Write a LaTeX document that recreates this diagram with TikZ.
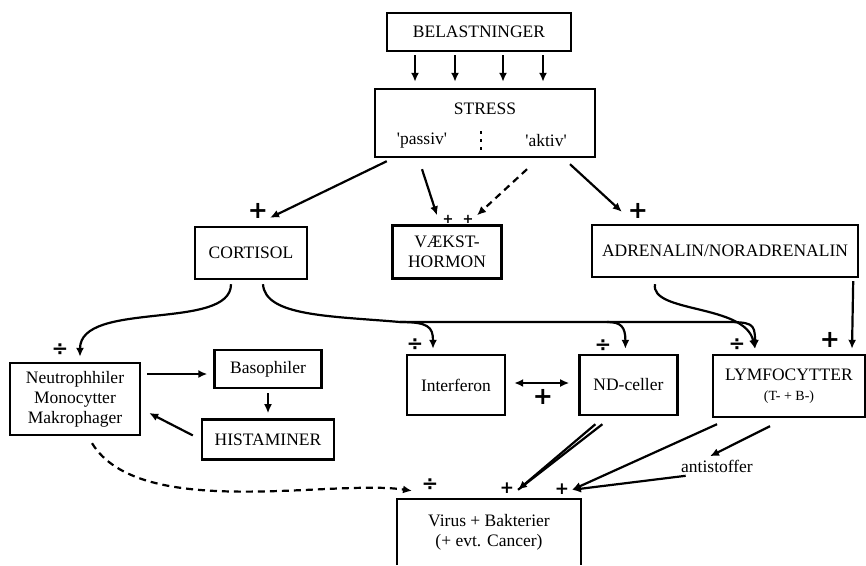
\documentclass[tikz,border=0pt]{standalone}
\usepackage{fontspec}
\setmainfont{Liberation Serif}
\newfontfamily\signfont{DejaVu Sans}
\usetikzlibrary{positioning,arrows.meta,calc}

\begin{document}
\begin{tikzpicture}[
  x=1pt,y=-1pt,
  font=\fontsize{17.5}{20}\selectfont,
  box/.style={draw,line width=2.4pt,align=center,inner sep=2pt},
  arr/.style={-{Latex[length=9pt,width=8pt]},line width=2.2pt},
  arrboth/.style={{Latex[length=9pt,width=8pt]}-{Latex[length=9pt,width=8pt]},line width=2.2pt},
  darr/.style={arr,dash pattern=on 7pt off 5pt},
  plus/.style={font=\signfont\bfseries\fontsize{24}{24}\selectfont,inner sep=0pt},
  midplus/.style={font=\signfont\bfseries\fontsize{17}{17}\selectfont,inner sep=0pt},
  smallplus/.style={font=\signfont\bfseries\fontsize{13}{13}\selectfont,inner sep=0pt},
  minus/.style={font=\signfont\bfseries\fontsize{20}{20}\selectfont,inner sep=0pt}
]
\useasboundingbox (0,0) rectangle (866,565);

% top
\node[box,minimum width=184pt,minimum height=38pt] (belast) at (479,32) {BELASTNINGER};
\node[box,minimum width=220pt,minimum height=68pt] (stress) at (485,123) {};
\node (stresslbl) at (485,109) {STRESS};
\node (passiv) at (422,141) {\textquotesingle passiv\textquotesingle};
\node (aktiv) at (546,141) {\textquotesingle aktiv\textquotesingle};
\draw[line width=2.8pt,dash pattern=on 3pt off 5pt] (481,131) -- (481,154);

% hormones
\node[box,minimum width=112pt,minimum height=52pt] (cort) at (251,253) {CORTISOL};
\node[box,minimum width=109pt,minimum height=53pt] (vaekst) at (447,252) {VÆKST-\\HORMON};
\node[box,minimum width=266pt,minimum height=52pt] (adren) at (725,251) {ADRENALIN/NORADRENALIN};

% cells
\node[box,minimum width=130pt,minimum height=72pt] (neutro) at (75,399) {Neutrophhiler\\Monocytter\\Makrophager};
\node[box,minimum width=107pt,minimum height=38pt] (baso) at (268,369) {Basophiler};
\node[box,minimum width=132pt,minimum height=40pt,below=29pt of baso] (hist) {HISTAMINER};
\node[box,minimum width=98pt,minimum height=60pt] (inter) at (456,385) {Interferon};
\node[box,minimum width=98pt,minimum height=60pt,right=72pt of inter] (nd) {ND-celler};
\node[box,minimum width=152pt,minimum height=62pt] (lymf) at (789,386)
  {LYMFOCYTTER\\{\fontsize{14}{16}\selectfont(T- + B-)}};
\node (anti) at (717,466) {antistoffer};
\node[minimum width=184pt,minimum height=66pt,align=center] (virus) at (489,532)
  {Virus + Bakterier\\(+ evt. Cancer)};
\draw[line width=2.4pt] (virus.south west) |- (virus.north east) -- (virus.south east);

% signs
\node[plus] (pcort) at (258,211) {+};
\node[smallplus] (pvaek1) at (448,219) {+};
\node[smallplus] (pvaek2) at (468,219) {+};
\node[plus] (padren) at (638,211) {+};
\node[minus] (mneutro) at (60,350) {÷};
\node[minus] (minter) at (415,345) {÷};
\node[minus] (mnd) at (603,346) {÷};
\node[minus] (mlymf) at (737,345) {÷};
\node[plus] (plymf) at (830,340) {+};
\node[plus] (pinter) at (543,397) {+};
\node[minus] (mvirus) at (430,485) {÷};
\node[midplus] (pvirus1) at (507,488) {+};
\node[midplus] (pvirus2) at (562,489) {+};

% belastninger -> stress
\foreach \dx in {-64,-24,24,64}
  \draw[arr,shorten >=6pt] ([xshift=\dx pt,yshift=-3pt]belast.south) -- ([xshift=\dx pt]belast.south |- stress.north);

% stress -> hormones
\draw[arr] ([xshift=13pt,yshift=-3pt]stress.south west) -- ([xshift=19pt,yshift=8pt]cort.north);
\draw[arr] ([xshift=-63pt,yshift=-11pt]stress.south) -- ([xshift=-10pt,yshift=9pt]vaekst.north);
\draw[darr] ([xshift=42pt,yshift=-11pt]stress.south) -- ([xshift=30pt,yshift=9pt]vaekst.north);
\draw[arr] ([xshift=85pt,yshift=-6pt]stress.south) -- ([xshift=31pt,yshift=12pt]adren.north west);

% cortisol
\coordinate (busw) at (400,322);
\coordinate (busnd) at (607,322);
\coordinate (buse) at (722,322);
\draw[arr] ([xshift=-20pt,yshift=-4pt]cort.south) .. controls +(0,47) and +(0,-57) .. ([xshift=5pt,yshift=5pt]neutro.north);
\draw[arr] ([xshift=12pt,yshift=-4pt]cort.south) .. controls +(2,32) and +(-70,-6) .. (busw)
  -- (buse) .. controls +(30,0) and +(0,-26) .. ([xshift=-34pt,yshift=5pt]lymf.north);
\draw[arr] (busw) .. controls +(28,0) and +(0,-22) .. ([xshift=-23pt,yshift=5pt]inter.north);
\draw[arr] (busnd) .. controls +(14,0) and +(0,-22) .. ([xshift=-3pt,yshift=5pt]nd.north);

% adrenalin
\draw[arr] ([xshift=-70pt,yshift=-6pt]adren.south) .. controls +(-5,29) and +(-10,-45) .. ([xshift=-34pt,yshift=5pt]lymf.north);
\draw[arr] ([xshift=-6pt,yshift=-3pt]adren.south east) -- ([xshift=63pt,yshift=5pt]lymf.north);

% cells
\draw[arr] ([xshift=6pt,yshift=25pt]neutro.east) -- ([xshift=-6pt,yshift=-5pt]baso.west);
\draw[arr] ([yshift=-4pt]baso.south) -- ([yshift=5pt]hist.north);
\draw[arr] ([xshift=-8pt,yshift=4pt]hist.west) -- ([xshift=8pt,yshift=-14pt]neutro.east);
\draw[arrboth] ([xshift=8pt,yshift=2pt]inter.east) -- ([xshift=-9pt,yshift=2pt]nd.west);

% -> virus
\draw[line width=2.2pt] ([xshift=-26pt,yshift=-8pt]nd.south) -- ([xshift=29pt,yshift=9pt]virus.north);
\draw[arr] ([xshift=-33pt,yshift=-8pt]nd.south) -- ([xshift=29pt,yshift=9pt]virus.north);
\draw[arr] ([xshift=-72pt,yshift=-6pt]lymf.south) -- ([xshift=83pt,yshift=9pt]virus.north);
\draw[arr] ([xshift=-19pt,yshift=-8pt]lymf.south) -- ([xshift=-7pt]anti.north);
\draw[arr] ([xshift=8pt]anti.south west) -- ([xshift=83pt,yshift=9pt]virus.north);
\draw[darr] ([xshift=17pt,yshift=-7pt]neutro.south) .. controls +(48,78) and +(-80,-12) .. ([xshift=-77pt,yshift=8pt]virus.north);
\end{tikzpicture}
\end{document}
